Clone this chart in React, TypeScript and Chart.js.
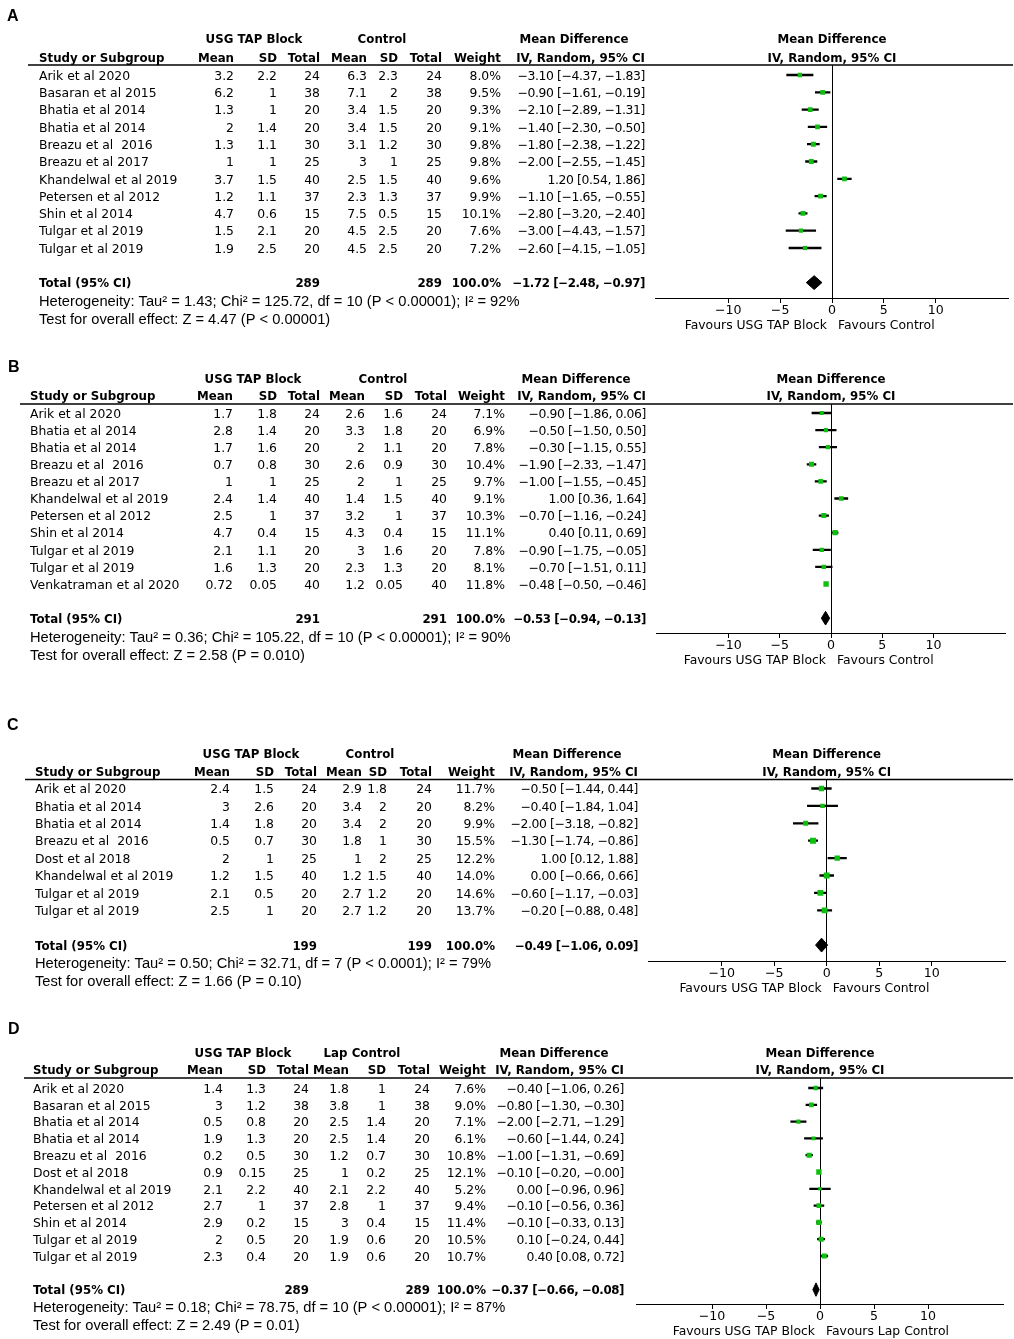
import React, { useEffect, useRef } from 'react';
import { Chart, registerables } from 'chart.js';

Chart.register(...registerables);

// ---------------- Panel A ----------------
const studiesA = ['Arik et al 2020', 'Basaran et al 2015', 'Bhatia et al 2014', 'Bhatia et al 2014', 'Breazu et al  2016', 'Breazu et al 2017', 'Khandelwal et al 2019', 'Petersen et al 2012', 'Shin et al 2014', 'Tulgar et al 2019', 'Tulgar et al 2019'];
const usgMeanA = [3.2, 6.2, 1.3, 2, 1.3, 1, 3.7, 1.2, 4.7, 1.5, 1.9];
const usgSdA = [2.2, 1, 1, 1.4, 1.1, 1, 1.5, 1.1, 0.6, 2.1, 2.5];
const usgNA = [24, 38, 20, 20, 30, 25, 40, 37, 15, 20, 20];
const ctrlMeanA = [6.3, 7.1, 3.4, 3.4, 3.1, 3, 2.5, 2.3, 7.5, 4.5, 4.5];
const ctrlSdA = [2.3, 2, 1.5, 1.5, 1.2, 1, 1.5, 1.3, 0.5, 2.5, 2.5];
const ctrlNA = [24, 38, 20, 20, 30, 25, 40, 37, 15, 20, 20];
const weightA = [8.0, 9.5, 9.3, 9.1, 9.8, 9.8, 9.6, 9.9, 10.1, 7.6, 7.2];
const mdA = [-3.1, -0.9, -2.1, -1.4, -1.8, -2.0, 1.2, -1.1, -2.8, -3.0, -2.6];
const loA = [-4.37, -1.61, -2.89, -2.3, -2.38, -2.55, 0.54, -1.65, -3.2, -4.43, -4.15];
const hiA = [-1.83, -0.19, -1.31, -0.5, -1.22, -1.45, 1.86, -0.55, -2.4, -1.57, -1.05];
const totalsA = [289, 289];
const pooledA = [-1.72, -2.48, -0.97];
const statsA = ['Heterogeneity: Tau² = 1.43; Chi² = 125.72, df = 10 (P < 0.00001); I² = 92%', 'Test for overall effect: Z = 4.47 (P < 0.00001)'];

// ---------------- Panel B ----------------
const studiesB = ['Arik et al 2020', 'Bhatia et al 2014', 'Bhatia et al 2014', 'Breazu et al  2016', 'Breazu et al 2017', 'Khandelwal et al 2019', 'Petersen et al 2012', 'Shin et al 2014', 'Tulgar et al 2019', 'Tulgar et al 2019', 'Venkatraman et al 2020'];
const usgMeanB = [1.7, 2.8, 1.7, 0.7, 1, 2.4, 2.5, 4.7, 2.1, 1.6, 0.72];
const usgSdB = [1.8, 1.4, 1.6, 0.8, 1, 1.4, 1, 0.4, 1.1, 1.3, 0.05];
const usgNB = [24, 20, 20, 30, 25, 40, 37, 15, 20, 20, 40];
const ctrlMeanB = [2.6, 3.3, 2, 2.6, 2, 1.4, 3.2, 4.3, 3, 2.3, 1.2];
const ctrlSdB = [1.6, 1.8, 1.1, 0.9, 1, 1.5, 1, 0.4, 1.6, 1.3, 0.05];
const ctrlNB = [24, 20, 20, 30, 25, 40, 37, 15, 20, 20, 40];
const weightB = [7.1, 6.9, 7.8, 10.4, 9.7, 9.1, 10.3, 11.1, 7.8, 8.1, 11.8];
const mdB = [-0.9, -0.5, -0.3, -1.9, -1.0, 1.0, -0.7, 0.4, -0.9, -0.7, -0.48];
const loB = [-1.86, -1.5, -1.15, -2.33, -1.55, 0.36, -1.16, 0.11, -1.75, -1.51, -0.5];
const hiB = [0.06, 0.5, 0.55, -1.47, -0.45, 1.64, -0.24, 0.69, -0.05, 0.11, -0.46];
const totalsB = [291, 291];
const pooledB = [-0.53, -0.94, -0.13];
const statsB = ['Heterogeneity: Tau² = 0.36; Chi² = 105.22, df = 10 (P < 0.00001); I² = 90%', 'Test for overall effect: Z = 2.58 (P = 0.010)'];

// ---------------- Panel C ----------------
const studiesC = ['Arik et al 2020', 'Bhatia et al 2014', 'Bhatia et al 2014', 'Breazu et al  2016', 'Dost et al 2018', 'Khandelwal et al 2019', 'Tulgar et al 2019', 'Tulgar et al 2019'];
const usgMeanC = [2.4, 3, 1.4, 0.5, 2, 1.2, 2.1, 2.5];
const usgSdC = [1.5, 2.6, 1.8, 0.7, 1, 1.5, 0.5, 1];
const usgNC = [24, 20, 20, 30, 25, 40, 20, 20];
const ctrlMeanC = [2.9, 3.4, 3.4, 1.8, 1, 1.2, 2.7, 2.7];
const ctrlSdC = [1.8, 2, 2, 1, 2, 1.5, 1.2, 1.2];
const ctrlNC = [24, 20, 20, 30, 25, 40, 20, 20];
const weightC = [11.7, 8.2, 9.9, 15.5, 12.2, 14.0, 14.6, 13.7];
const mdC = [-0.5, -0.4, -2.0, -1.3, 1.0, 0.0, -0.6, -0.2];
const loC = [-1.44, -1.84, -3.18, -1.74, 0.12, -0.66, -1.17, -0.88];
const hiC = [0.44, 1.04, -0.82, -0.86, 1.88, 0.66, -0.03, 0.48];
const totalsC = [199, 199];
const pooledC = [-0.49, -1.06, 0.09];
const statsC = ['Heterogeneity: Tau² = 0.50; Chi² = 32.71, df = 7 (P < 0.0001); I² = 79%', 'Test for overall effect: Z = 1.66 (P = 0.10)'];

// ---------------- Panel D ----------------
const studiesD = ['Arik et al 2020', 'Basaran et al 2015', 'Bhatia et al 2014', 'Bhatia et al 2014', 'Breazu et al  2016', 'Dost et al 2018', 'Khandelwal et al 2019', 'Petersen et al 2012', 'Shin et al 2014', 'Tulgar et al 2019', 'Tulgar et al 2019'];
const usgMeanD = [1.4, 3, 0.5, 1.9, 0.2, 0.9, 2.1, 2.7, 2.9, 2, 2.3];
const usgSdD = [1.3, 1.2, 0.8, 1.3, 0.5, 0.15, 2.2, 1, 0.2, 0.5, 0.4];
const usgND = [24, 38, 20, 20, 30, 25, 40, 37, 15, 20, 20];
const ctrlMeanD = [1.8, 3.8, 2.5, 2.5, 1.2, 1, 2.1, 2.8, 3, 1.9, 1.9];
const ctrlSdD = [1, 1, 1.4, 1.4, 0.7, 0.2, 2.2, 1, 0.4, 0.6, 0.6];
const ctrlND = [24, 38, 20, 20, 30, 25, 40, 37, 15, 20, 20];
const weightD = [7.6, 9.0, 7.1, 6.1, 10.8, 12.1, 5.2, 9.4, 11.4, 10.5, 10.7];
const mdD = [-0.4, -0.8, -2.0, -0.6, -1.0, -0.1, 0.0, -0.1, -0.1, 0.1, 0.4];
const loD = [-1.06, -1.3, -2.71, -1.44, -1.31, -0.2, -0.96, -0.56, -0.33, -0.24, 0.08];
const hiD = [0.26, -0.3, -1.29, 0.24, -0.69, -0, 0.96, 0.36, 0.13, 0.44, 0.72];
const totalsD = [289, 289];
const pooledD = [-0.37, -0.66, -0.08];
const statsD = ['Heterogeneity: Tau² = 0.18; Chi² = 78.75, df = 10 (P < 0.00001); I² = 87%', 'Test for overall effect: Z = 2.49 (P = 0.01)'];

// axis
const xTickValues = [-10, -5, 0, 5, 10];
const X_LIMIT = 17;

// ---------------- styles ----------------
const FAM = '"DejaVu Sans", "Noto Sans", sans-serif';
const TXT = `12.4px ${FAM}`;
const TXT_B = `bold 11.8px ${FAM}`;
const STAT = `14.7px "Liberation Sans", Arial, sans-serif`;
const LETTER = `bold 16px "Liberation Sans", Arial, sans-serif`;
const GREEN = '#0fbf0f';
const SQ_K = 1.55;
const DIAMOND_H = 0.4;
const TEXT_DY = 1.5;
const MD_SPACING = '-0.4px';

interface Layout {
  top: number; height: number; letterX: number; letterY: number; studyX: number; ruleX0: number;
  cols: number[]; usgC: number; ctrlC: number; mdHeadC: number; head1Y: number; head2Y: number;
  ruleY: number; row0Y: number; step: number; axisY: number; zero: number; ppu: number; statY: number[];
}
interface Panel {
  letter: string; groupA: string; groupB: string; favL: string; favR: string;
  studies: string[]; usgMean: number[]; usgSd: number[]; usgN: number[];
  ctrlMean: number[]; ctrlSd: number[]; ctrlN: number[]; weight: number[];
  md: number[]; lo: number[]; hi: number[]; totals: number[]; pooled: number[]; stats: string[];
  L: Layout;
}

const panels: Panel[] = [
  {
    letter: 'A', groupA: 'USG TAP Block', groupB: 'Control', favL: 'Favours USG TAP Block', favR: 'Favours Control',
    studies: studiesA, usgMean: usgMeanA, usgSd: usgSdA, usgN: usgNA, ctrlMean: ctrlMeanA, ctrlSd: ctrlSdA, ctrlN: ctrlNA,
    weight: weightA, md: mdA, lo: loA, hi: hiA, totals: totalsA, pooled: pooledA, stats: statsA,
    L: { top: 0, height: 345, letterX: 7, letterY: 15, studyX: 39, ruleX0: 28, cols: [234, 277, 320, 367, 398, 442, 501, 645],
      usgC: 254, ctrlC: 382, mdHeadC: 574, head1Y: 38.5, head2Y: 57, ruleY: 65, row0Y: 75, step: 17.3, axisY: 298,
      zero: 832, ppu: 10.37, statY: [300, 318] },
  },
  {
    letter: 'B', groupA: 'USG TAP Block', groupB: 'Control', favL: 'Favours USG TAP Block', favR: 'Favours Control',
    studies: studiesB, usgMean: usgMeanB, usgSd: usgSdB, usgN: usgNB, ctrlMean: ctrlMeanB, ctrlSd: ctrlSdB, ctrlN: ctrlNB,
    weight: weightB, md: mdB, lo: loB, hi: hiB, totals: totalsB, pooled: pooledB, stats: statsB,
    L: { top: 345, height: 355, letterX: 8, letterY: 366, studyX: 30, ruleX0: 20, cols: [233, 277, 320, 365, 403, 447, 505, 646],
      usgC: 253, ctrlC: 383, mdHeadC: 576, head1Y: 378, head2Y: 395.5, ruleY: 404, row0Y: 413, step: 17.1, axisY: 633,
      zero: 831, ppu: 10.25, statY: [636, 654] },
  },
  {
    letter: 'C', groupA: 'USG TAP Block', groupB: 'Control', favL: 'Favours USG TAP Block', favR: 'Favours Control',
    studies: studiesC, usgMean: usgMeanC, usgSd: usgSdC, usgN: usgNC, ctrlMean: ctrlMeanC, ctrlSd: ctrlSdC, ctrlN: ctrlNC,
    weight: weightC, md: mdC, lo: loC, hi: hiC, totals: totalsC, pooled: pooledC, stats: statsC,
    L: { top: 700, height: 310, letterX: 7, letterY: 724, studyX: 35, ruleX0: 25, cols: [230, 274, 317, 362, 387, 432, 495, 638],
      usgC: 251, ctrlC: 370, mdHeadC: 567, head1Y: 753, head2Y: 771, ruleY: 779.5, row0Y: 788.5, step: 17.4, axisY: 961,
      zero: 826.7, ppu: 10.5, statY: [962, 980] },
  },
  {
    letter: 'D', groupA: 'USG TAP Block', groupB: 'Lap Control', favL: 'Favours USG TAP Block', favR: 'Favours Lap Control',
    studies: studiesD, usgMean: usgMeanD, usgSd: usgSdD, usgN: usgND, ctrlMean: ctrlMeanD, ctrlSd: ctrlSdD, ctrlN: ctrlND,
    weight: weightD, md: mdD, lo: loD, hi: hiD, totals: totalsD, pooled: pooledD, stats: statsD,
    L: { top: 1010, height: 329, letterX: 8, letterY: 1028, studyX: 33, ruleX0: 24, cols: [223, 266, 309, 349, 386, 430, 486, 624],
      usgC: 243, ctrlC: 362, mdHeadC: 554, head1Y: 1052, head2Y: 1069.5, ruleY: 1078, row0Y: 1088, step: 16.8, axisY: 1304,
      zero: 820, ppu: 10.8, statY: [1306, 1324] },
  },
];

function fmt2(v: number): string {
  const neg = v < 0 || Object.is(v, -0);
  return (neg ? '\u2212' : '') + Math.abs(v).toFixed(2);
}
function ciText(m: number, l: number, h: number): string {
  return `${fmt2(m)} [${fmt2(l)}, ${fmt2(h)}]`;
}

function tablePlugin(p: Panel) {
  return {
    id: 'forestTable' + p.letter,
    afterDraw(chart: any) {
      const ctx: any = chart.ctx;
      const ys = chart.scales.y;
      const xs = chart.scales.x;
      const L = p.L;
      const Y = (py: number) => py - L.top + TEXT_DY;
      const n = p.studies.length;
      const zx = xs.getPixelForValue(0);
      const c = L.cols;
      ctx.save();
      ctx.fillStyle = '#000';
      ctx.textBaseline = 'middle';

      // panel letter
      ctx.font = LETTER;
      ctx.textAlign = 'left';
      ctx.fillText(p.letter, L.letterX, Y(L.letterY));

      // header rule
      ctx.strokeStyle = '#000';
      ctx.lineWidth = 1.5;
      ctx.beginPath();
      ctx.moveTo(L.ruleX0, chart.chartArea.top);
      ctx.lineTo(1013, chart.chartArea.top);
      ctx.stroke();

      // headers
      ctx.font = TXT_B;
      ctx.textAlign = 'center';
      ctx.fillText(p.groupA, L.usgC, Y(L.head1Y));
      ctx.fillText(p.groupB, L.ctrlC, Y(L.head1Y));
      ctx.fillText('Mean Difference', L.mdHeadC, Y(L.head1Y));
      ctx.fillText('Mean Difference', zx, Y(L.head1Y));
      ctx.fillText('IV, Random, 95% CI', zx, Y(L.head2Y));
      ctx.textAlign = 'left';
      ctx.fillText('Study or Subgroup', L.studyX, Y(L.head2Y));
      ctx.textAlign = 'right';
      const heads = ['Mean', 'SD', 'Total', 'Mean', 'SD', 'Total', 'Weight', 'IV, Random, 95% CI'];
      heads.forEach((h, i) => ctx.fillText(h, c[i], Y(L.head2Y)));

      // study rows
      ctx.font = TXT;
      for (let i = 0; i < n; i++) {
        const y = ys.getPixelForValue(i) + TEXT_DY;
        ctx.textAlign = 'left';
        ctx.fillText(p.studies[i], L.studyX, y);
        ctx.textAlign = 'right';
        const cells = [
          String(p.usgMean[i]), String(p.usgSd[i]), String(p.usgN[i]),
          String(p.ctrlMean[i]), String(p.ctrlSd[i]), String(p.ctrlN[i]),
          p.weight[i].toFixed(1) + '%',
        ];
        cells.forEach((t, k) => ctx.fillText(t, c[k], y));
        ctx.letterSpacing = MD_SPACING;
        ctx.fillText(ciText(p.md[i], p.lo[i], p.hi[i]), c[7], y);
        ctx.letterSpacing = '0px';
      }

      // total row
      const ty = ys.getPixelForValue(n + 1) + TEXT_DY;
      ctx.font = TXT_B;
      ctx.textAlign = 'left';
      ctx.fillText('Total (95% CI)', L.studyX, ty);
      ctx.textAlign = 'right';
      ctx.fillText(String(p.totals[0]), c[2], ty);
      ctx.fillText(String(p.totals[1]), c[5], ty);
      ctx.fillText('100.0%', c[6], ty);
      ctx.letterSpacing = MD_SPACING;
      ctx.fillText(ciText(p.pooled[0], p.pooled[1], p.pooled[2]), c[7], ty);
      ctx.letterSpacing = '0px';

      // statistics
      ctx.font = STAT;
      ctx.textAlign = 'left';
      p.stats.forEach((s, k) => ctx.fillText(s, L.studyX, Y(L.statY[k])));

      // favours labels
      ctx.font = TXT;
      const fy = Y(L.axisY + 26);
      ctx.textAlign = 'right';
      ctx.fillText(p.favL, zx - 5, fy);
      ctx.textAlign = 'left';
      ctx.fillText(p.favR, zx + 6, fy);
      ctx.restore();
    },
  };
}

function ForestPanel({ p }: { p: Panel }) {
  const ref = useRef<HTMLCanvasElement | null>(null);
  const L = p.L;
  useEffect(() => {
    if (!ref.current) return;
    const n = p.studies.length;
    const left = L.zero - X_LIMIT * L.ppu;
    const right = L.zero + X_LIMIT * L.ppu;
    const areaTop = L.ruleY - L.top;
    const areaBottom = L.axisY - L.top;
    const yMin = -(L.row0Y - L.ruleY) / L.step;
    const yMax = yMin + (L.axisY - L.ruleY) / L.step;
    const tRow = n + 1;
    const axisH = L.height - areaBottom;
    const [pm, pl, ph] = p.pooled;

    const chart = new Chart(ref.current, {
      type: 'scatter',
      data: {
        datasets: [
          {
            type: 'scatter',
            label: 'Mean difference',
            data: p.md.map((v, i) => ({ x: v, y: i })),
            pointStyle: 'rect',
            pointRadius: p.weight.map((w) => (SQ_K * Math.sqrt(w)) / Math.SQRT2),
            pointBackgroundColor: GREEN,
            pointBorderColor: GREEN,
            pointBorderWidth: 0,
            order: 0,
          } as any,
          {
            type: 'bar',
            label: '95% CI',
            indexAxis: 'y',
            data: p.lo.map((v, i) => ({ x: [v, p.hi[i]], y: i })),
            backgroundColor: '#000',
            borderWidth: 0,
            barThickness: 1.6,
            order: 1,
          } as any,
          {
            type: 'scatter',
            label: 'Pooled',
            showLine: true,
            fill: 'shape',
            data: [
              { x: pl, y: tRow }, { x: pm, y: tRow - DIAMOND_H }, { x: ph, y: tRow },
              { x: pm, y: tRow + DIAMOND_H }, { x: pl, y: tRow },
            ],
            borderColor: '#000',
            backgroundColor: '#000',
            borderWidth: 1,
            pointRadius: 0,
            tension: 0,
            order: 2,
          } as any,
        ],
      },
      options: {
        responsive: false,
        maintainAspectRatio: false,
        animation: false,
        events: [],
        layout: { padding: { left, right: 1014 - right, top: areaTop, bottom: 0 } },
        plugins: { legend: { display: false }, tooltip: { enabled: false }, title: { display: false } },
        scales: {
          x: {
            type: 'linear',
            min: -X_LIMIT,
            max: X_LIMIT,
            afterBuildTicks: (s: any) => { s.ticks = xTickValues.map((v) => ({ value: v })); },
            afterFit: (s: any) => { s.height = axisH; },
            border: { display: true, color: '#000', width: 1 },
            grid: {
              drawOnChartArea: true,
              color: (ctx: any) => (ctx.tick && ctx.tick.value === 0 ? '#000' : 'rgba(0,0,0,0)'),
              lineWidth: 1,
              drawTicks: true,
              tickLength: 5,
              tickColor: '#000',
            },
            ticks: {
              color: '#000',
              font: { family: FAM, size: 12.6 },
              padding: 0,
              maxRotation: 0,
              autoSkip: false,
              callback: (v: any) => String(v).replace('-', '\u2212'),
            },
          },
          y: { type: 'linear', reverse: true, min: yMin, max: yMax, display: false, offset: false },
        },
      } as any,
      plugins: [tablePlugin(p)],
    });
    return () => chart.destroy();
  }, []);
  return (
    <canvas
      ref={ref}
      width={1014}
      height={L.height}
      style={{ position: 'absolute', left: 0, top: L.top, display: 'block' }}
    />
  );
}

export default function App() {
  return (
    <div style={{ position: 'absolute', left: 0, top: 0, width: 1014, height: 1339, background: '#fff', overflow: 'hidden' }}>
      {panels.map((p) => (
        <ForestPanel key={p.letter} p={p} />
      ))}
    </div>
  );
}
